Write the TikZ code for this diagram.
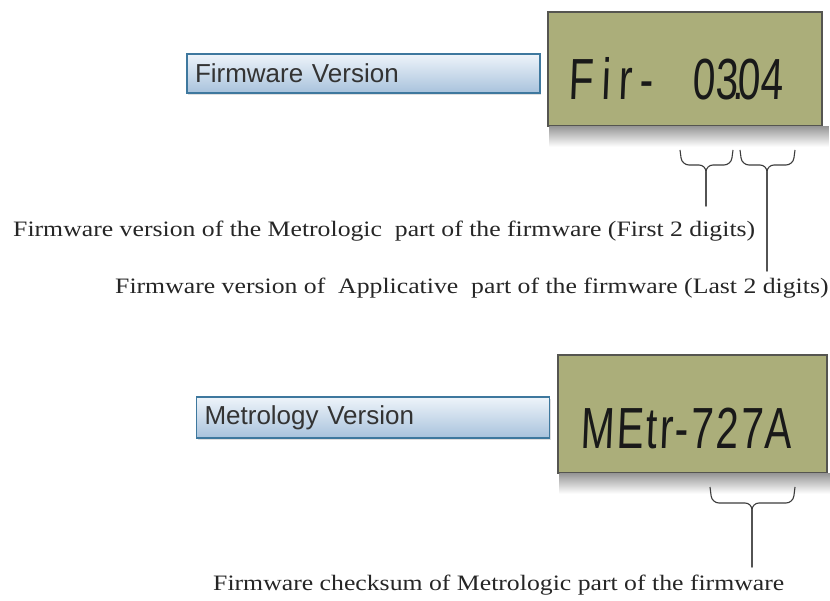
\documentclass[tikz,border=0pt]{standalone}
\usepackage{fontspec}
\setmainfont{Liberation Serif}
\newfontfamily\boxfont{Liberation Sans}
\newfontfamily\lcdfont[FakeSlant=0.06]{Liberation Sans}
\usepackage{graphicx}
\usepackage{xcolor}
\usepackage{tikz}
\usetikzlibrary{shapes,arrows,positioning,shadows}

\definecolor{boxtop}{RGB}{238,244,250}
\definecolor{boxbot}{RGB}{168,194,220}
\definecolor{boxline}{RGB}{62,120,158}
\definecolor{lcdgreen}{RGB}{171,174,122}
\definecolor{lcdline}{RGB}{85,85,80}
\definecolor{bracegray}{RGB}{60,60,60}
\newcommand{\widen}[1]{\scalebox{1.17}[1]{#1}}
\newcommand{\lcdsize}[2]{\scalebox{0.7}[1]{\addfontfeature{LetterSpace=#1}#2}}

\begin{document}
\begin{tikzpicture}[x=1pt, y=-1pt]
  \tikzstyle{verbox} = [rectangle, draw=boxline, line width=1.2pt, top color=boxtop, bottom color=boxbot, text width=337pt, align=left, inner xsep=8pt, minimum height=39pt, font=\boxfont\fontsize{26}{30}\selectfont, text=black!80, drop shadow={opacity=0.25, shadow xshift=1pt, shadow yshift=-2pt}]
  \tikzstyle{lcd} = [rectangle, draw=lcdline, line width=1.5pt, fill=lcdgreen]
  \tikzstyle{lcdshade} = [top color=black!40, bottom color=white]
  \tikzstyle{lcdtext} = [inner sep=0pt, font=\lcdfont\fontsize{58}{60}\selectfont, text=black!90]
  \tikzstyle{note} = [inner sep=0pt, font=\fontsize{22}{26}\selectfont, text=black!85, anchor=base west]
  \tikzstyle{bracket} = [draw=bracegray, line width=1.1pt, rounded corners=7pt]

  \useasboundingbox [fill=white] (0,0) rectangle (830,601);

  % firmware version
  \node [verbox] (fwbox) at (363.5,73.5) {Firmware Version};
  \node [lcd, minimum width=274pt, minimum height=114pt] (fwlcd) at (685,69) {};
  \shade [lcdshade] ([xshift=2pt]fwlcd.south west) rectangle ([xshift=6pt, yshift=-20pt]fwlcd.south east);
  \node [lcdtext, anchor=base west] (fwname) at (568,100) {\lcdsize{20}{Fir-}};
  \node [lcdtext, anchor=base east] (fwnum) at (783,100) {\lcdsize{0}{03\makebox[0pt]{.}04}};

  % metrology version
  \node [verbox, minimum height=41pt] (mtbox) at (373,417.5) {Metrology Version};
  \node [lcd, minimum width=269pt, minimum height=118pt] (mtlcd) at (692.5,414) {};
  \shade [lcdshade] ([xshift=2pt]mtlcd.south west) rectangle ([xshift=3pt, yshift=-20pt]mtlcd.south east);
  \node [lcdtext, anchor=base west] (mtname) at (580,448) {\lcdsize{5.5}{MEtr-727A}};

  % explanations
  \node [note] (metro) at (13,237) {\widen{Firmware version of the Metrologic\ \ part of the firmware (First 2 digits)}};
  \node [note] (appli) at (115,294) {\widen{Firmware version of\ \ Applicative\ \ part of the firmware (Last 2 digits)}};
  \node [note] (cksum) at (213,590) {\widen{Firmware checksum of Metrologic part of the firmware}};

  \coordinate (brA) at (706,165);
  \coordinate (brB) at (767,165);
  \coordinate (brC) at (752,503);

  \draw [bracket, shorten >=15pt] (680,150) -- (682,165) -- (brA) -- (brA |- metro.north);
  \draw [bracket, shorten >=15pt] (733,150) -- (731,165) -- (brA) -- (brA |- metro.north);
  \draw [bracket, shorten >=7pt] (740,150) -- (742,165) -- (brB) -- (brB |- appli.north);
  \draw [bracket, shorten >=7pt] (795,150) -- (793,165) -- (brB) -- (brB |- appli.north);
  \draw [bracket, shorten >=7pt] (710,487) -- (712,503) -- (brC) -- (brC |- cksum.north);
  \draw [bracket, shorten >=7pt] (795,487) -- (793,503) -- (brC) -- (brC |- cksum.north);
\end{tikzpicture}
\end{document}
